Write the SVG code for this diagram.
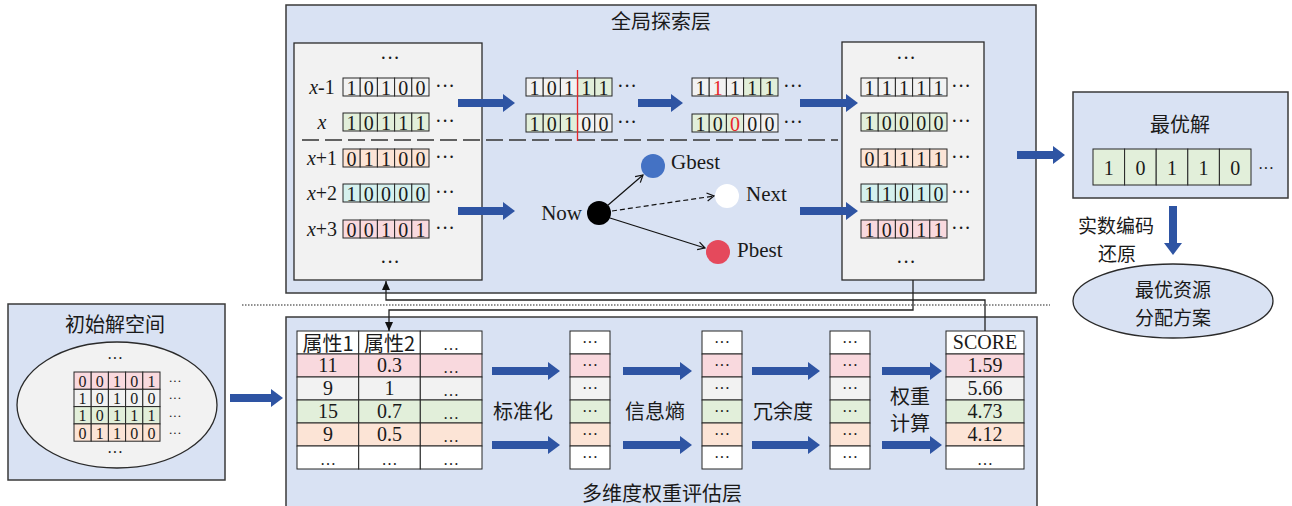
<svg xmlns="http://www.w3.org/2000/svg" width="1292" height="506" viewBox="0 0 1292 506">
<style>
.panel{fill:#d9e2f3;stroke:#3a3a3a;stroke-width:1.5}
.inner{fill:#f2f2f2;stroke:#2a2a2a;stroke-width:1.3}
.cell{stroke:#262626;stroke-width:1}
.w{fill:#f2f2f2}.g{fill:#e2efda}.o{fill:#fce4d6}.t{fill:#d5f1ee}.p{fill:#f9d9de}.wh{fill:#ffffff}
.d{font-family:"Liberation Serif","DejaVu Serif",serif;font-size:20px;text-anchor:middle;dominant-baseline:central;fill:#1a1a1a}
.s{font-family:"Liberation Serif","DejaVu Serif",serif;font-size:20px;dominant-baseline:central;fill:#1a1a1a}
.sm{font-size:16px}
.xs{font-size:13px}
.big{font-size:21px}
.gi{font-size:16px}
.cj{font-family:"Noto Sans CJK SC","Noto Sans CJK JP",sans-serif;font-size:20px;text-anchor:middle;dominant-baseline:central;fill:#1a1a1a}
.cjs{font-size:19px}
.red{fill:#e8262a}
.ba{fill:none;stroke:#2e54a3;stroke-width:8}
.conn{fill:none;stroke:#222;stroke-width:1.3}
</style>
<defs>
<marker id="bh" markerUnits="userSpaceOnUse" markerWidth="12" markerHeight="18" viewBox="0 0 12 18" refX="0" refY="9" orient="auto"><path d="M0,0 L12,9 L0,18 Z" fill="#2e54a3"/></marker>
<marker id="kh" markerUnits="userSpaceOnUse" markerWidth="9" markerHeight="8" viewBox="0 0 9 8" refX="9" refY="4" orient="auto"><path d="M0,0 L9,4 L0,8 Z" fill="#111"/></marker>
<marker id="oh" markerUnits="userSpaceOnUse" markerWidth="9" markerHeight="10" viewBox="0 0 9 10" refX="8" refY="5" orient="auto"><path d="M1,1 L8,5 L1,9" fill="none" stroke="#111" stroke-width="1.2"/></marker>
</defs>

<!-- layer panels -->
<g id="global-layer">
<rect class="panel" x="286" y="5" width="750" height="288"/>
<text class="cj" x="661" y="20">全局探索层</text>
</g>
<g id="weight-layer">
<rect class="panel" x="286" y="317" width="751" height="200"/>
<text class="cj" x="662" y="492">多维度权重评估层</text>
</g>
<line x1="242" y1="305" x2="1050" y2="305" stroke="#222" stroke-width="1.2" stroke-dasharray="1.5 1.5"/>

<!-- left population panel -->
<g id="population">
<rect class="inner" x="294" y="43" width="188" height="237"/>
<text class="d" x="390" y="58">···</text>
<text class="s" x="322" y="87" text-anchor="middle"><tspan font-style="italic">x</tspan>-1</text>
<text class="s" x="322" y="122" text-anchor="middle" font-style="italic">x</text>
<text class="s" x="322" y="158" text-anchor="middle"><tspan font-style="italic">x</tspan>+1</text>
<text class="s" x="322" y="193" text-anchor="middle"><tspan font-style="italic">x</tspan>+2</text>
<text class="s" x="322" y="229" text-anchor="middle"><tspan font-style="italic">x</tspan>+3</text>
<g transform="translate(343,78)">
<rect class="cell w" x="0" width="17.2" height="18"/><rect class="cell w" x="17.2" width="17.2" height="18"/><rect class="cell w" x="34.4" width="17.2" height="18"/><rect class="cell w" x="51.6" width="17.2" height="18"/><rect class="cell w" x="68.8" width="17.2" height="18"/>
<text class="d" x="8.6" y="9.5">1</text><text class="d" x="25.8" y="9.5">0</text><text class="d" x="43" y="9.5">1</text><text class="d" x="60.2" y="9.5">0</text><text class="d" x="77.4" y="9.5">0</text>
</g>
<g transform="translate(343,113)">
<rect class="cell g" x="0" width="17.2" height="18"/><rect class="cell g" x="17.2" width="17.2" height="18"/><rect class="cell g" x="34.4" width="17.2" height="18"/><rect class="cell g" x="51.6" width="17.2" height="18"/><rect class="cell g" x="68.8" width="17.2" height="18"/>
<text class="d" x="8.6" y="9.5">1</text><text class="d" x="25.8" y="9.5">0</text><text class="d" x="43" y="9.5">1</text><text class="d" x="60.2" y="9.5">1</text><text class="d" x="77.4" y="9.5">1</text>
</g>
<g transform="translate(343,149)">
<rect class="cell o" x="0" width="17.2" height="18"/><rect class="cell o" x="17.2" width="17.2" height="18"/><rect class="cell o" x="34.4" width="17.2" height="18"/><rect class="cell o" x="51.6" width="17.2" height="18"/><rect class="cell o" x="68.8" width="17.2" height="18"/>
<text class="d" x="8.6" y="9.5">0</text><text class="d" x="25.8" y="9.5">1</text><text class="d" x="43" y="9.5">1</text><text class="d" x="60.2" y="9.5">0</text><text class="d" x="77.4" y="9.5">0</text>
</g>
<g transform="translate(343,184)">
<rect class="cell t" x="0" width="17.2" height="18"/><rect class="cell t" x="17.2" width="17.2" height="18"/><rect class="cell t" x="34.4" width="17.2" height="18"/><rect class="cell t" x="51.6" width="17.2" height="18"/><rect class="cell t" x="68.8" width="17.2" height="18"/>
<text class="d" x="8.6" y="9.5">1</text><text class="d" x="25.8" y="9.5">0</text><text class="d" x="43" y="9.5">0</text><text class="d" x="60.2" y="9.5">0</text><text class="d" x="77.4" y="9.5">0</text>
</g>
<g transform="translate(343,220)">
<rect class="cell p" x="0" width="17.2" height="18"/><rect class="cell p" x="17.2" width="17.2" height="18"/><rect class="cell p" x="34.4" width="17.2" height="18"/><rect class="cell p" x="51.6" width="17.2" height="18"/><rect class="cell p" x="68.8" width="17.2" height="18"/>
<text class="d" x="8.6" y="9.5">0</text><text class="d" x="25.8" y="9.5">0</text><text class="d" x="43" y="9.5">1</text><text class="d" x="60.2" y="9.5">0</text><text class="d" x="77.4" y="9.5">1</text>
</g>
<text class="d" x="445" y="86">···</text><text class="d" x="445" y="121">···</text><text class="d" x="445" y="157">···</text><text class="d" x="445" y="192">···</text><text class="d" x="445" y="228">···</text>
<text class="d" x="390" y="262">···</text>
</g>

<line x1="302" y1="140" x2="838" y2="140" stroke="#333" stroke-width="1.5" stroke-dasharray="17 6"/>

<!-- crossover -->
<g id="crossover">
<g transform="translate(526,78)">
<rect class="cell w" x="0" width="17.2" height="18"/><rect class="cell w" x="17.2" width="17.2" height="18"/><rect class="cell w" x="34.4" width="17.2" height="18"/><rect class="cell g" x="51.6" width="17.2" height="18"/><rect class="cell g" x="68.8" width="17.2" height="18"/>
<text class="d" x="8.6" y="9.5">1</text><text class="d" x="25.8" y="9.5">0</text><text class="d" x="43" y="9.5">1</text><text class="d" x="60.2" y="9.5">1</text><text class="d" x="77.4" y="9.5">1</text>
</g>
<g transform="translate(526,114)">
<rect class="cell g" x="0" width="17.2" height="18"/><rect class="cell g" x="17.2" width="17.2" height="18"/><rect class="cell g" x="34.4" width="17.2" height="18"/><rect class="cell w" x="51.6" width="17.2" height="18"/><rect class="cell w" x="68.8" width="17.2" height="18"/>
<text class="d" x="8.6" y="9.5">1</text><text class="d" x="25.8" y="9.5">0</text><text class="d" x="43" y="9.5">1</text><text class="d" x="60.2" y="9.5">0</text><text class="d" x="77.4" y="9.5">0</text>
</g>
<line x1="577.5" y1="70" x2="577.5" y2="141" stroke="#e8262a" stroke-width="1.3"/>
<text class="d" x="627" y="86">···</text><text class="d" x="627" y="122">···</text>
</g>

<!-- mutation -->
<g id="mutation">
<g transform="translate(692,78)">
<rect class="cell w" x="0" width="17.2" height="18"/><rect class="cell w" x="17.2" width="17.2" height="18"/><rect class="cell w" x="34.4" width="17.2" height="18"/><rect class="cell g" x="51.6" width="17.2" height="18"/><rect class="cell g" x="68.8" width="17.2" height="18"/>
<text class="d" x="8.6" y="9.5">1</text><text class="d red" x="25.8" y="9.5">1</text><text class="d" x="43" y="9.5">1</text><text class="d" x="60.2" y="9.5">1</text><text class="d" x="77.4" y="9.5">1</text>
</g>
<g transform="translate(692,114)">
<rect class="cell g" x="0" width="17.2" height="18"/><rect class="cell g" x="17.2" width="17.2" height="18"/><rect class="cell g" x="34.4" width="17.2" height="18"/><rect class="cell w" x="51.6" width="17.2" height="18"/><rect class="cell w" x="68.8" width="17.2" height="18"/>
<text class="d" x="8.6" y="9.5">1</text><text class="d" x="25.8" y="9.5">0</text><text class="d red" x="43" y="9.5">0</text><text class="d" x="60.2" y="9.5">0</text><text class="d" x="77.4" y="9.5">0</text>
</g>
<text class="d" x="793" y="86">···</text><text class="d" x="793" y="122">···</text>
</g>

<!-- PSO update -->
<g id="pso">
<circle cx="599" cy="213" r="12" fill="#000"/>
<circle cx="653" cy="166" r="12" fill="#4472c4"/>
<circle cx="727" cy="196" r="12" fill="#ffffff"/>
<circle cx="718" cy="252" r="12" fill="#e5495c"/>
<text class="s big" x="582" y="213" text-anchor="end">Now</text>
<text class="s big" x="671" y="162">Gbest</text>
<text class="s big" x="746" y="194">Next</text>
<text class="s big" x="737" y="250">Pbest</text>
</g>

<!-- new population -->
<g id="new-population">
<rect class="inner" x="842" y="42" width="142" height="238"/>
<text class="d" x="906" y="58">···</text>
<g transform="translate(861,78)">
<rect class="cell w" x="0" width="17.2" height="18"/><rect class="cell w" x="17.2" width="17.2" height="18"/><rect class="cell w" x="34.4" width="17.2" height="18"/><rect class="cell w" x="51.6" width="17.2" height="18"/><rect class="cell w" x="68.8" width="17.2" height="18"/>
<text class="d" x="8.6" y="9.5">1</text><text class="d" x="25.8" y="9.5">1</text><text class="d" x="43" y="9.5">1</text><text class="d" x="60.2" y="9.5">1</text><text class="d" x="77.4" y="9.5">1</text>
</g>
<g transform="translate(861,113)">
<rect class="cell g" x="0" width="17.2" height="18"/><rect class="cell g" x="17.2" width="17.2" height="18"/><rect class="cell g" x="34.4" width="17.2" height="18"/><rect class="cell g" x="51.6" width="17.2" height="18"/><rect class="cell g" x="68.8" width="17.2" height="18"/>
<text class="d" x="8.6" y="9.5">1</text><text class="d" x="25.8" y="9.5">0</text><text class="d" x="43" y="9.5">0</text><text class="d" x="60.2" y="9.5">0</text><text class="d" x="77.4" y="9.5">0</text>
</g>
<g transform="translate(861,149)">
<rect class="cell o" x="0" width="17.2" height="18"/><rect class="cell o" x="17.2" width="17.2" height="18"/><rect class="cell o" x="34.4" width="17.2" height="18"/><rect class="cell o" x="51.6" width="17.2" height="18"/><rect class="cell o" x="68.8" width="17.2" height="18"/>
<text class="d" x="8.6" y="9.5">0</text><text class="d" x="25.8" y="9.5">1</text><text class="d" x="43" y="9.5">1</text><text class="d" x="60.2" y="9.5">1</text><text class="d" x="77.4" y="9.5">1</text>
</g>
<g transform="translate(861,184)">
<rect class="cell t" x="0" width="17.2" height="18"/><rect class="cell t" x="17.2" width="17.2" height="18"/><rect class="cell t" x="34.4" width="17.2" height="18"/><rect class="cell t" x="51.6" width="17.2" height="18"/><rect class="cell t" x="68.8" width="17.2" height="18"/>
<text class="d" x="8.6" y="9.5">1</text><text class="d" x="25.8" y="9.5">1</text><text class="d" x="43" y="9.5">0</text><text class="d" x="60.2" y="9.5">1</text><text class="d" x="77.4" y="9.5">0</text>
</g>
<g transform="translate(861,220)">
<rect class="cell p" x="0" width="17.2" height="18"/><rect class="cell p" x="17.2" width="17.2" height="18"/><rect class="cell p" x="34.4" width="17.2" height="18"/><rect class="cell p" x="51.6" width="17.2" height="18"/><rect class="cell p" x="68.8" width="17.2" height="18"/>
<text class="d" x="8.6" y="9.5">1</text><text class="d" x="25.8" y="9.5">0</text><text class="d" x="43" y="9.5">0</text><text class="d" x="60.2" y="9.5">1</text><text class="d" x="77.4" y="9.5">1</text>
</g>
<text class="d" x="961" y="86">···</text><text class="d" x="961" y="121">···</text><text class="d" x="961" y="157">···</text><text class="d" x="961" y="192">···</text><text class="d" x="961" y="228">···</text>
<text class="d" x="906" y="262">···</text>
</g>

<!-- best solution -->
<g id="best-solution">
<rect class="panel" x="1073" y="92" width="215" height="106"/>
<text class="cj big" x="1180" y="123">最优解</text>
<g transform="translate(1093,149)">
<rect class="cell g" x="0" width="31.6" height="36"/><rect class="cell g" x="31.6" width="31.6" height="36"/><rect class="cell g" x="63.2" width="31.6" height="36"/><rect class="cell g" x="94.8" width="31.6" height="36"/><rect class="cell g" x="126.4" width="31.6" height="36"/>
<text class="d" x="15.8" y="18.5">1</text><text class="d" x="47.4" y="18.5">0</text><text class="d" x="79" y="18.5">1</text><text class="d" x="110.6" y="18.5">1</text><text class="d" x="142.2" y="18.5">0</text>
</g>
<text class="d sm" x="1266" y="168">···</text>
</g>

<g id="decode-label">
<text class="cj cjs" x="1116" y="224">实数编码</text>
<text class="cj cjs" x="1117" y="252">还原</text>
</g>

<g id="final-plan">
<ellipse cx="1173" cy="301" rx="100" ry="37" fill="#d9e2f3" stroke="#2a2a2a" stroke-width="1.3"/>
<text class="cj cjs" x="1173" y="288">最优资源</text>
<text class="cj cjs" x="1173" y="316">分配方案</text>
</g>

<!-- initial space -->
<g id="initial-space">
<rect class="panel" x="8" y="304" width="217" height="176"/>
<text class="cj" x="115" y="323">初始解空间</text>
<ellipse cx="117" cy="405" rx="100" ry="63" fill="#f2f2f2" stroke="#2a2a2a" stroke-width="1.3"/>
<text class="d sm" x="115" y="358">···</text>
<g transform="translate(74,372)">
<rect class="cell p" x="0" y="0" width="17.2" height="17.3"/><rect class="cell p" x="17.2" y="0" width="17.2" height="17.3"/><rect class="cell p" x="34.4" y="0" width="17.2" height="17.3"/><rect class="cell p" x="51.6" y="0" width="17.2" height="17.3"/><rect class="cell p" x="68.8" y="0" width="17.2" height="17.3"/>
<rect class="cell w" x="0" y="17.3" width="17.2" height="17.3"/><rect class="cell w" x="17.2" y="17.3" width="17.2" height="17.3"/><rect class="cell w" x="34.4" y="17.3" width="17.2" height="17.3"/><rect class="cell w" x="51.6" y="17.3" width="17.2" height="17.3"/><rect class="cell w" x="68.8" y="17.3" width="17.2" height="17.3"/>
<rect class="cell g" x="0" y="34.6" width="17.2" height="17.3"/><rect class="cell g" x="17.2" y="34.6" width="17.2" height="17.3"/><rect class="cell g" x="34.4" y="34.6" width="17.2" height="17.3"/><rect class="cell g" x="51.6" y="34.6" width="17.2" height="17.3"/><rect class="cell g" x="68.8" y="34.6" width="17.2" height="17.3"/>
<rect class="cell o" x="0" y="51.9" width="17.2" height="17.3"/><rect class="cell o" x="17.2" y="51.9" width="17.2" height="17.3"/><rect class="cell o" x="34.4" y="51.9" width="17.2" height="17.3"/><rect class="cell o" x="51.6" y="51.9" width="17.2" height="17.3"/><rect class="cell o" x="68.8" y="51.9" width="17.2" height="17.3"/>
<text class="d gi" x="8.6" y="9.2">0</text><text class="d gi" x="25.8" y="9.2">0</text><text class="d gi" x="43" y="9.2">1</text><text class="d gi" x="60.2" y="9.2">0</text><text class="d gi" x="77.4" y="9.2">1</text>
<text class="d gi" x="8.6" y="26.5">1</text><text class="d gi" x="25.8" y="26.5">0</text><text class="d gi" x="43" y="26.5">1</text><text class="d gi" x="60.2" y="26.5">0</text><text class="d gi" x="77.4" y="26.5">0</text>
<text class="d gi" x="8.6" y="43.8">1</text><text class="d gi" x="25.8" y="43.8">0</text><text class="d gi" x="43" y="43.8">1</text><text class="d gi" x="60.2" y="43.8">1</text><text class="d gi" x="77.4" y="43.8">1</text>
<text class="d gi" x="8.6" y="61.1">0</text><text class="d gi" x="25.8" y="61.1">1</text><text class="d gi" x="43" y="61.1">1</text><text class="d gi" x="60.2" y="61.1">0</text><text class="d gi" x="77.4" y="61.1">0</text>
</g>
<text class="d xs" x="175" y="380">···</text><text class="d xs" x="175" y="397">···</text><text class="d xs" x="175" y="415">···</text><text class="d xs" x="175" y="432">···</text>
<text class="d sm" x="115" y="452">···</text>
</g>

<!-- attribute table -->
<g id="attr-table">
<rect class="cell wh" x="297" y="331" width="61.7" height="23"/><rect class="cell wh" x="358.7" y="331" width="61.6" height="23"/><rect class="cell wh" x="420.3" y="331" width="61.7" height="23"/>
<rect class="cell p" x="297" y="354" width="61.7" height="23"/><rect class="cell p" x="358.7" y="354" width="61.6" height="23"/><rect class="cell p" x="420.3" y="354" width="61.7" height="23"/>
<rect class="cell w" x="297" y="377" width="61.7" height="23"/><rect class="cell w" x="358.7" y="377" width="61.6" height="23"/><rect class="cell w" x="420.3" y="377" width="61.7" height="23"/>
<rect class="cell g" x="297" y="400" width="61.7" height="23"/><rect class="cell g" x="358.7" y="400" width="61.6" height="23"/><rect class="cell g" x="420.3" y="400" width="61.7" height="23"/>
<rect class="cell o" x="297" y="423" width="61.7" height="23"/><rect class="cell o" x="358.7" y="423" width="61.6" height="23"/><rect class="cell o" x="420.3" y="423" width="61.7" height="23"/>
<rect class="cell wh" x="297" y="446" width="61.7" height="23"/><rect class="cell wh" x="358.7" y="446" width="61.6" height="23"/><rect class="cell wh" x="420.3" y="446" width="61.7" height="23"/>
<text class="cj" x="328" y="342">属性1</text><text class="cj" x="389.5" y="342">属性2</text><text class="d sm" x="451" y="344">…</text>
<text class="d" x="328" y="365">11</text><text class="d" x="389.5" y="365">0.3</text><text class="d sm" x="451" y="367">…</text>
<text class="d" x="328" y="388">9</text><text class="d" x="389.5" y="388">1</text><text class="d sm" x="451" y="390">…</text>
<text class="d" x="328" y="411">15</text><text class="d" x="389.5" y="411">0.7</text><text class="d sm" x="451" y="413">…</text>
<text class="d" x="328" y="434">9</text><text class="d" x="389.5" y="434">0.5</text><text class="d sm" x="451" y="436">…</text>
<text class="d sm" x="328" y="459">…</text><text class="d sm" x="389.5" y="459">…</text><text class="d sm" x="451" y="459">…</text>
</g>

<!-- intermediate columns -->
<g id="col-standard">
<rect class="cell wh" x="570" y="331" width="40" height="23"/><rect class="cell p" x="570" y="354" width="40" height="23"/><rect class="cell w" x="570" y="377" width="40" height="23"/><rect class="cell g" x="570" y="400" width="40" height="23"/><rect class="cell o" x="570" y="423" width="40" height="23"/><rect class="cell wh" x="570" y="446" width="40" height="23"/>
<text class="d sm" x="590" y="342">···</text><text class="d sm" x="590" y="365">···</text><text class="d sm" x="590" y="388">···</text><text class="d sm" x="590" y="411">···</text><text class="d sm" x="590" y="434">···</text><text class="d sm" x="590" y="457">···</text>
</g>
<g id="col-entropy">
<rect class="cell wh" x="702" y="331" width="40" height="23"/><rect class="cell p" x="702" y="354" width="40" height="23"/><rect class="cell w" x="702" y="377" width="40" height="23"/><rect class="cell g" x="702" y="400" width="40" height="23"/><rect class="cell o" x="702" y="423" width="40" height="23"/><rect class="cell wh" x="702" y="446" width="40" height="23"/>
<text class="d sm" x="722" y="342">···</text><text class="d sm" x="722" y="365">···</text><text class="d sm" x="722" y="388">···</text><text class="d sm" x="722" y="411">···</text><text class="d sm" x="722" y="434">···</text><text class="d sm" x="722" y="457">···</text>
</g>
<g id="col-redundancy">
<rect class="cell wh" x="830" y="331" width="40" height="23"/><rect class="cell p" x="830" y="354" width="40" height="23"/><rect class="cell w" x="830" y="377" width="40" height="23"/><rect class="cell g" x="830" y="400" width="40" height="23"/><rect class="cell o" x="830" y="423" width="40" height="23"/><rect class="cell wh" x="830" y="446" width="40" height="23"/>
<text class="d sm" x="850" y="342">···</text><text class="d sm" x="850" y="365">···</text><text class="d sm" x="850" y="388">···</text><text class="d sm" x="850" y="411">···</text><text class="d sm" x="850" y="434">···</text><text class="d sm" x="850" y="457">···</text>
</g>
<g id="score-table">
<rect class="cell wh" x="946" y="331" width="78" height="23"/><rect class="cell p" x="946" y="354" width="78" height="23"/><rect class="cell w" x="946" y="377" width="78" height="23"/><rect class="cell g" x="946" y="400" width="78" height="23"/><rect class="cell o" x="946" y="423" width="78" height="23"/><rect class="cell wh" x="946" y="446" width="78" height="23"/>
<text class="d" x="985" y="342">SCORE</text>
<text class="d" x="985" y="365">1.59</text><text class="d" x="985" y="388">5.66</text><text class="d" x="985" y="411">4.73</text><text class="d" x="985" y="434">4.12</text><text class="d sm" x="985" y="459">…</text>
</g>

<g id="step-labels">
<text class="cj" x="523" y="410">标准化</text>
<text class="cj" x="655" y="410">信息熵</text>
<text class="cj" x="783" y="410">冗余度</text>
<text class="cj" x="910" y="395">权重</text>
<text class="cj" x="910" y="422">计算</text>
</g>

<!-- connectors -->
<g id="connectors">
<line class="ba" x1="458" y1="103" x2="503" y2="103" marker-end="url(#bh)"/>
<line class="ba" x1="638" y1="103" x2="671" y2="103" marker-end="url(#bh)"/>
<line class="ba" x1="800" y1="103" x2="846" y2="103" marker-end="url(#bh)"/>
<line class="ba" x1="458" y1="211" x2="503" y2="211" marker-end="url(#bh)"/>
<line class="ba" x1="800" y1="211" x2="846" y2="211" marker-end="url(#bh)"/>
<line class="ba" x1="1017" y1="155" x2="1053" y2="155" marker-end="url(#bh)"/>
<line class="ba" x1="1173" y1="206" x2="1173" y2="243" marker-end="url(#bh)"/>
<line class="ba" x1="230" y1="398" x2="271" y2="398" marker-end="url(#bh)"/>
<line class="ba" x1="492" y1="371" x2="548" y2="371" marker-end="url(#bh)"/>
<line class="ba" x1="492" y1="445" x2="548" y2="445" marker-end="url(#bh)"/>
<line class="ba" x1="623" y1="371" x2="680" y2="371" marker-end="url(#bh)"/>
<line class="ba" x1="623" y1="445" x2="680" y2="445" marker-end="url(#bh)"/>
<line class="ba" x1="752" y1="371" x2="808" y2="371" marker-end="url(#bh)"/>
<line class="ba" x1="752" y1="445" x2="808" y2="445" marker-end="url(#bh)"/>
<line class="ba" x1="882" y1="371" x2="930" y2="371" marker-end="url(#bh)"/>
<line class="ba" x1="882" y1="445" x2="930" y2="445" marker-end="url(#bh)"/>
<line x1="607" y1="206" x2="643" y2="175" stroke="#111" stroke-width="1.2" marker-end="url(#oh)"/>
<line x1="612" y1="211" x2="714" y2="196" stroke="#111" stroke-width="1.2" stroke-dasharray="5 3" marker-end="url(#oh)"/>
<line x1="610" y1="218" x2="705" y2="248" stroke="#111" stroke-width="1.2" marker-end="url(#oh)"/>
<polyline class="conn" points="913,280 913,310 389,310 389,331" marker-end="url(#kh)"/>
<polyline class="conn" points="985,331 985,300 386,300 386,281" marker-end="url(#kh)"/>
</g>
</svg>
